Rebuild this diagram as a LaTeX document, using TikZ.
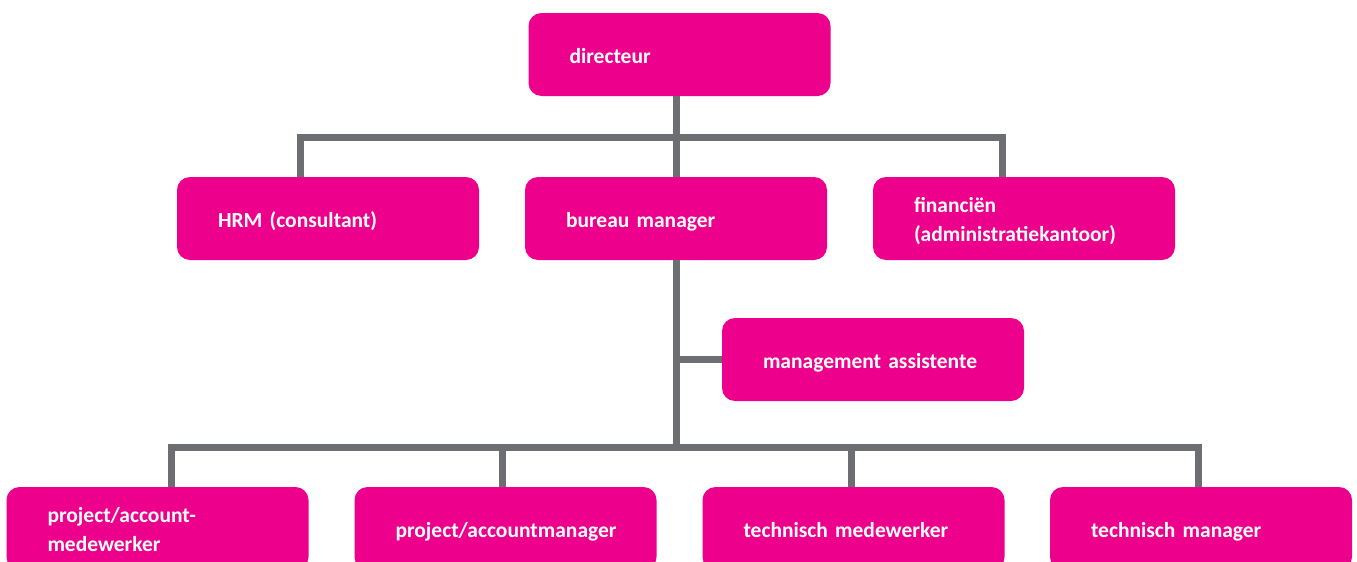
\documentclass[tikz,border=0pt]{standalone}
\usepackage{fontspec}
\setmainfont{Carlito}
\definecolor{orgpink}{RGB}{236,0,140}
\definecolor{orggray}{RGB}{109,110,113}
\tikzset{
    orgbox/.style={rectangle,rounded corners=13pt,fill=orgpink,text=white,
        minimum width=302pt,minimum height=83pt,text width=220pt,
        inner xsep=41pt,inner ysep=0pt,align=left,
        text height=22pt,text depth=5pt,
        font=\bfseries\fontsize{21.5}{29}\selectfont},
    twoline/.style={text height=21pt,text depth=33pt},
    conn/.style={draw=orggray,line width=7pt}
}
\begin{document}
\begin{tikzpicture}[x=1pt,y=-1pt]
        \useasboundingbox(0,0)rectangle(1357,562);
        \clip(0,0)rectangle(1357,562);
        % boxes
        \node[orgbox](dir)at(679.5,54.5){directeur};
        \node[orgbox](hrm)at(328,218.5){HRM (consultant)};
        \node[orgbox](bm)at(676,218.5){bureau manager};
        \node[orgbox,twoline](fin)at(1024,218.5){financiën\\(administratiekantoor)};
        \node[orgbox](ma)at(873,359.5){management assistente};
        \node[orgbox,twoline](pam)at(157.5,528.5){project/account-\\medewerker};
        \node[orgbox](pm)at(505.5,528.5){project/accountmanager};
        \node[orgbox](tmw)at(853.5,528.5){technisch medewerker};
        \node[orgbox](tm)at(1201,528.5){technisch manager};
        % lines
        \coordinate(topbus)at(676,137);
        \coordinate(lowbus)at(676,447);
        \draw[conn](bm.north|-dir.south)--(bm.north);
        \draw[conn]([xshift=-28pt]hrm.north)|-(topbus)-|([xshift=-22pt]fin.north);
        \draw[conn](bm.south)--(lowbus);
        \draw[conn](ma.west-|bm.south)--(ma.west);
        \draw[conn]([xshift=13.5pt]pam.north)|-(lowbus)-|([xshift=-3pt]tm.north);
        \draw[conn]([xshift=-3.5pt]pm.north)--([xshift=-3.5pt]pm.north|-lowbus);
        \draw[conn]([xshift=-2.5pt]tmw.north)--([xshift=-2.5pt]tmw.north|-lowbus);
    \end{tikzpicture}
\end{document}
